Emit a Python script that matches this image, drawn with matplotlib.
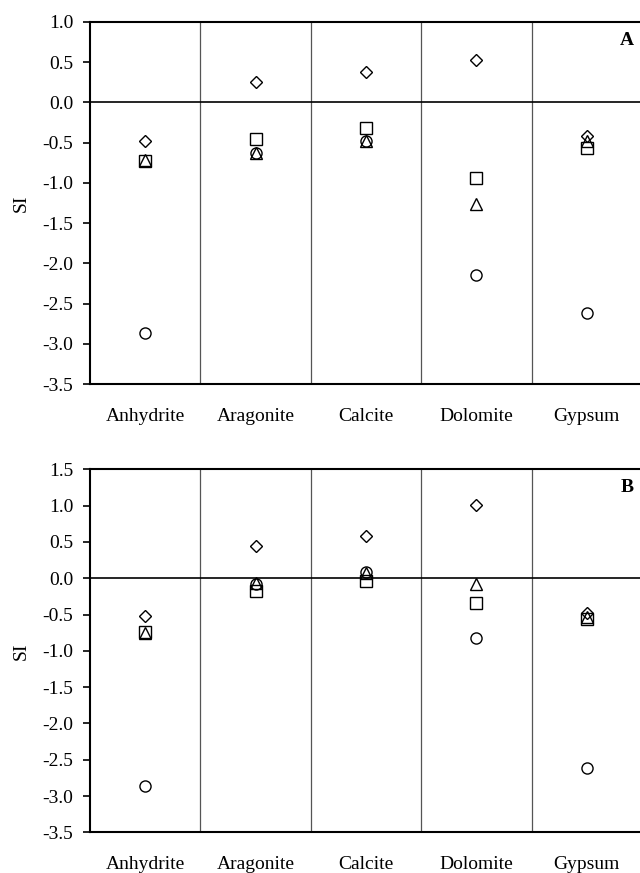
import numpy as np
import matplotlib
matplotlib.use("Agg")
import matplotlib.pyplot as plt

minerals = ["Anhydrite", "Aragonite", "Calcite", "Dolomite", "Gypsum"]

# saturation indices, panel A
a_diamond = [-0.48, 0.25, 0.38, 0.53, -0.42]
a_square = [-0.73, -0.46, -0.32, -0.94, -0.57]
a_triangle = [-0.71, -0.63, -0.48, -1.26, -0.48]
a_circle = [-2.87, -0.63, -0.48, -2.15, -2.62]

# saturation indices, panel B
b_diamond = [-0.52, 0.44, 0.58, 1.01, -0.48]
b_square = [-0.74, -0.17, -0.04, -0.34, -0.56]
b_triangle = [-0.75, -0.07, 0.07, -0.08, -0.53]
b_circle = [-2.86, -0.08, 0.08, -0.82, -2.62]

plt.rcParams['font.family'] = ['Liberation Serif', 'DejaVu Serif']
plt.rcParams['font.size'] = 14

fig = plt.figure(figsize=(6.4, 8.73), dpi=100)
ax_a = fig.add_axes([0.1406, 0.5601, 0.8625, 0.4147])
ax_b = fig.add_axes([0.1406, 0.0466, 0.8625, 0.4158])

panels = [
    (ax_a, a_diamond, a_square, a_triangle, a_circle, (-3.5, 1.0), "A"),
    (ax_b, b_diamond, b_square, b_triangle, b_circle, (-3.5, 1.5), "B"),
]

x = np.arange(len(minerals))
for ax, dia, sq, tri, cir, ylim, letter in panels:
    style = dict(linestyle='none', markerfacecolor='none', markeredgecolor='black',
                 markeredgewidth=1.0)
    ax.plot(x, cir, marker='o', markersize=8, **style)
    ax.plot(x, tri, marker='^', markersize=8, **style)
    ax.plot(x, sq, marker='s', markersize=8, **style)
    ax.plot(x, dia, marker='D', markersize=6, **style)

    for k in range(1, len(minerals)):
        ax.axvline(k - 0.5, color='#555555', linewidth=0.9)
    ax.axhline(0, color='black', linewidth=1.2)

    yt = np.arange(ylim[0], ylim[1] + 0.01, 0.5)
    ax.set_xlim(-0.5, len(minerals) - 0.5)
    ax.set_ylim(*ylim)
    ax.set_yticks(yt)
    ax.set_yticklabels([f"{v:.1f}" for v in yt])
    ax.set_xticks(x)
    ax.set_xticklabels(minerals)
    ax.tick_params(axis='x', length=0, pad=17)
    ax.tick_params(axis='y', direction='out', length=5, width=1.2, pad=7)
    ax.set_ylabel("SI", labelpad=9)

    for side in ['left', 'bottom', 'top']:
        ax.spines[side].set_linewidth(1.5)
    ax.spines['right'].set_visible(False)

    ax.text(0.985, 0.95, letter, transform=ax.transAxes, fontweight='bold',
            ha='right', va='center')

fig.savefig("out.png", dpi=100)
